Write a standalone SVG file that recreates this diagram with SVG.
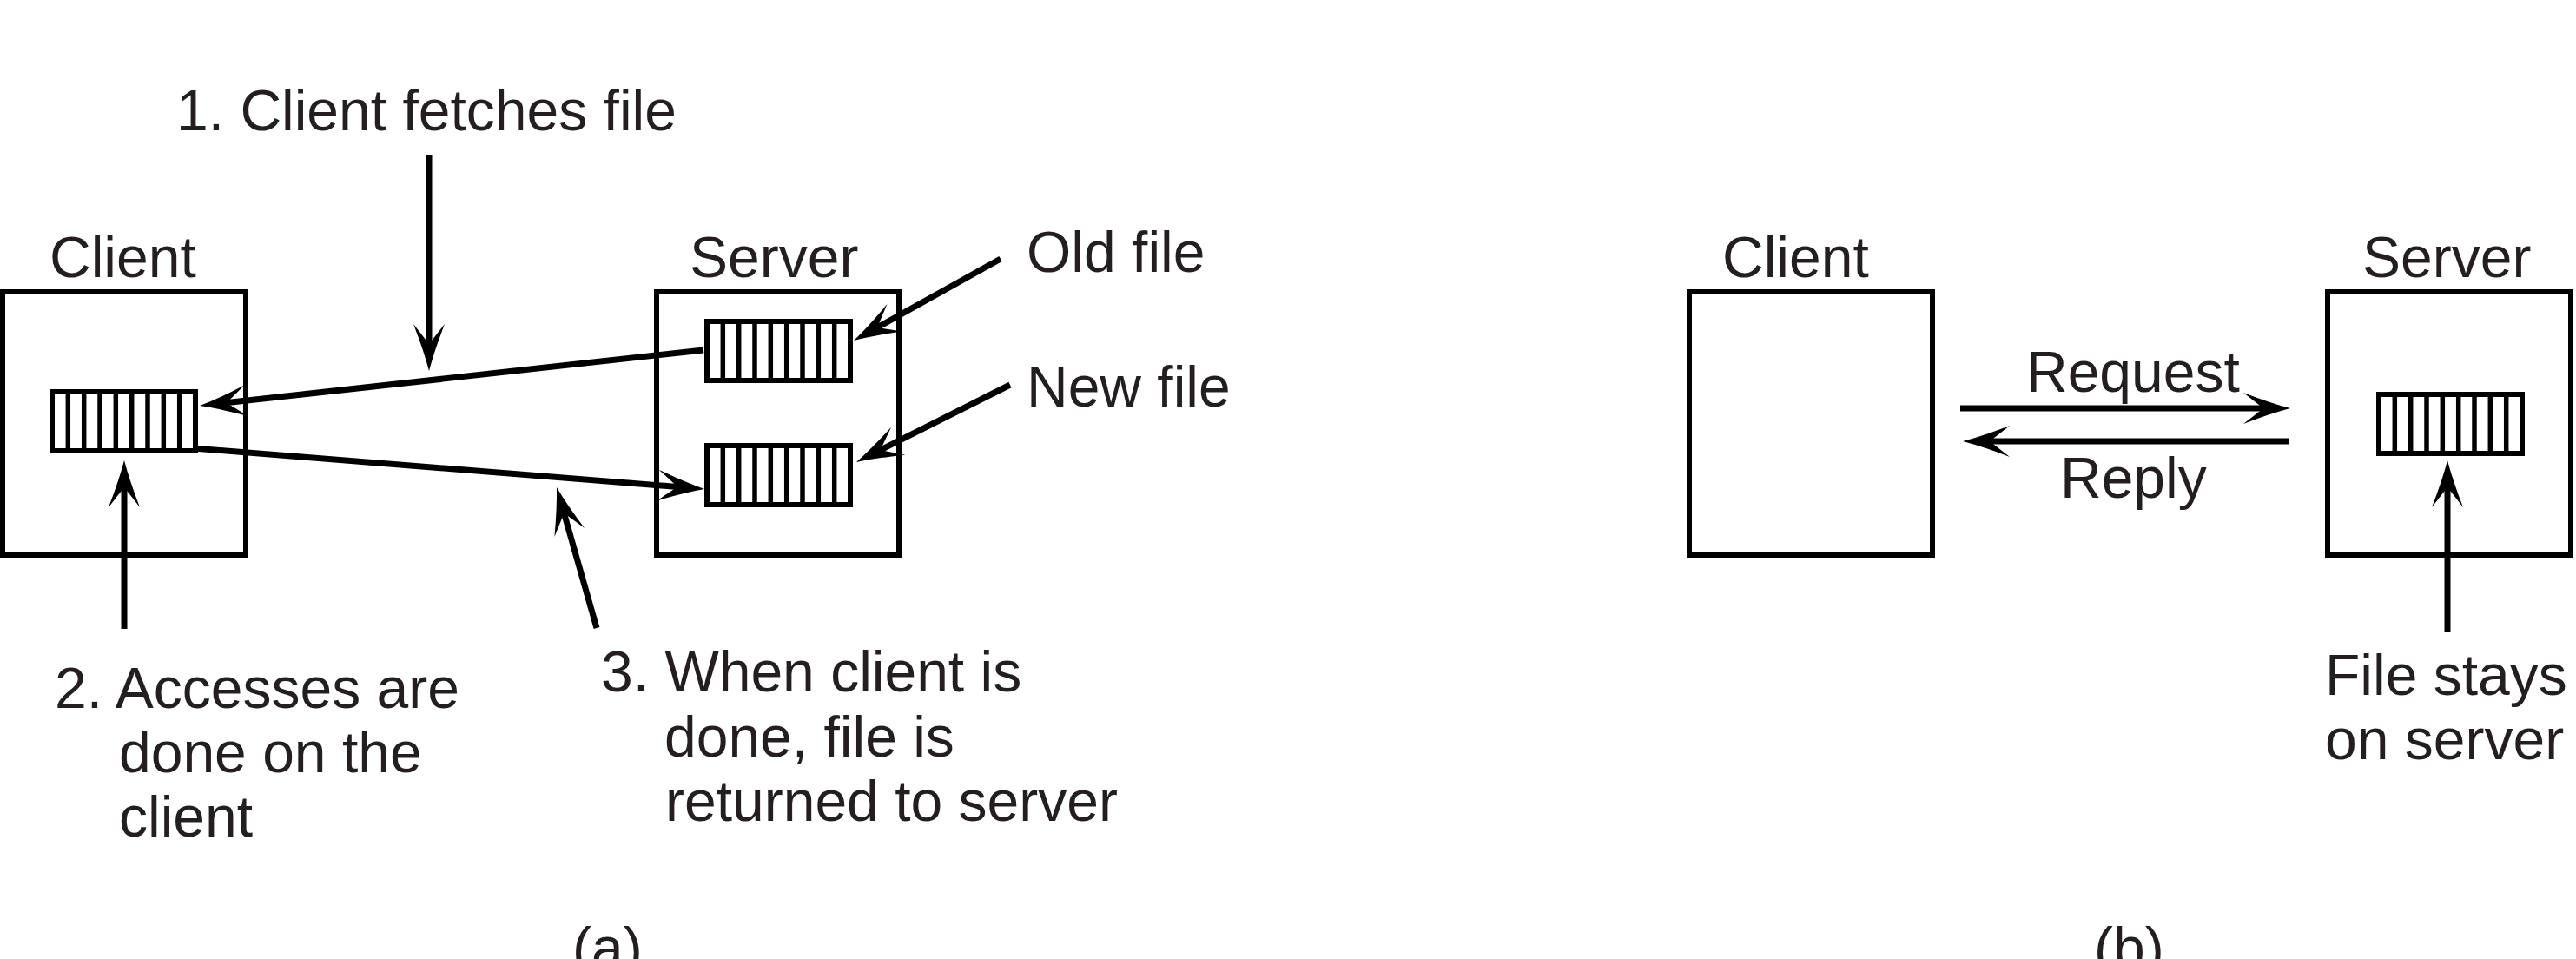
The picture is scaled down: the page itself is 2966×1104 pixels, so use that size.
<svg xmlns="http://www.w3.org/2000/svg" xmlns:xlink="http://www.w3.org/1999/xlink" width="2966" height="1104" viewBox="0 0 2966 1104">
<style>
.box{fill:#fff;stroke:#000;stroke-width:6}
.ficon{fill:#fff;stroke:#000;stroke-width:6}
.div{stroke:#000;stroke-width:5.5}
.lbl{font-family:"Liberation Sans",Arial,Helvetica,sans-serif;font-size:66px;fill:#231f20}
.con{fill:none;stroke:#000;stroke-width:7}
</style>
<defs>
<marker id="ah" markerUnits="userSpaceOnUse" viewBox="-30 -19 56 38" markerWidth="56" markerHeight="38" refX="0" refY="0" orient="auto">
<path d="M25,0 Q2,-6 -29,-18 L-6,0 L-29,18 Q2,6 25,0Z" fill="#000"/>
</marker>
<g id="fileicon">
<rect class="ficon" x="0" y="0" width="165" height="68"/>
<line class="div" x1="18.3" y1="0" x2="18.3" y2="68"/>
<line class="div" x1="36.7" y1="0" x2="36.7" y2="68"/>
<line class="div" x1="55" y1="0" x2="55" y2="68"/>
<line class="div" x1="73.3" y1="0" x2="73.3" y2="68"/>
<line class="div" x1="91.7" y1="0" x2="91.7" y2="68"/>
<line class="div" x1="110" y1="0" x2="110" y2="68"/>
<line class="div" x1="128.3" y1="0" x2="128.3" y2="68"/>
<line class="div" x1="146.7" y1="0" x2="146.7" y2="68"/>
</g>
</defs>
<rect x="0" y="0" width="2966" height="1104" fill="#fff"/>

<g id="client-a">
<rect class="box" x="3" y="336" width="280" height="303"/>
<text class="lbl" x="57" y="319">Client</text>
<use xlink:href="#fileicon" href="#fileicon" x="60" y="451"/>
</g>

<g id="server-a">
<rect class="box" x="756" y="336" width="279" height="303"/>
<text class="lbl" x="794" y="319">Server</text>
</g>

<g id="old-file">
<use xlink:href="#fileicon" href="#fileicon" x="814" y="370"/>
<text class="lbl" x="1182" y="313">Old file</text>
</g>

<g id="new-file">
<use xlink:href="#fileicon" href="#fileicon" x="814" y="513"/>
<text class="lbl" x="1182" y="468">New file</text>
</g>

<g id="note-1">
<text class="lbl" x="203" y="150">1. Client fetches file</text>
</g>

<g id="note-2">
<text class="lbl" x="63" y="815">2. Accesses are</text>
<text class="lbl" x="137" y="889">done on the</text>
<text class="lbl" x="137" y="963">client</text>
</g>

<g id="note-3">
<text class="lbl" x="692" y="796">3. When client is</text>
<text class="lbl" x="765" y="871">done, file is</text>
<text class="lbl" x="766" y="945">returned to server</text>
</g>

<g id="caption-a">
<text class="lbl" x="659" y="1114">(a)</text>
</g>

<g id="client-b">
<rect class="box" x="1945" y="336" width="280" height="303"/>
<text class="lbl" x="1983" y="319">Client</text>
</g>

<g id="server-b">
<rect class="box" x="2680" y="336" width="280" height="303"/>
<text class="lbl" x="2720" y="319">Server</text>
<use xlink:href="#fileicon" href="#fileicon" x="2739" y="454"/>
</g>

<g id="note-b">
<text class="lbl" x="2677" y="800">File stays</text>
<text class="lbl" x="2677" y="874">on server</text>
</g>

<g id="caption-b">
<text class="lbl" x="2411" y="1114">(b)</text>
</g>

<g id="msg-labels">
<text class="lbl" x="2333" y="451">Request</text>
<text class="lbl" x="2372" y="573">Reply</text>
</g>

<g id="connectors">
<line class="con" x1="810" y1="403" x2="254.9" y2="464.3" marker-end="url(#ah)"/>
<line class="con" x1="223" y1="516" x2="786.1" y2="561" marker-end="url(#ah)"/>
<line class="con" x1="494" y1="178" x2="494" y2="402" marker-end="url(#ah)"/>
<line class="con" x1="143" y1="724" x2="143" y2="555" marker-end="url(#ah)"/>
<line class="con" x1="687" y1="723" x2="647.8" y2="585.1" marker-end="url(#ah)"/>
<line class="con" x1="1152" y1="298" x2="1004.9" y2="379.9" marker-end="url(#ah)"/>
<line class="con" x1="1163" y1="443" x2="1008.3" y2="520.8" marker-end="url(#ah)"/>
<line class="con" x1="2257" y1="470" x2="2612" y2="470" marker-end="url(#ah)"/>
<line class="con" x1="2635" y1="508" x2="2285" y2="508" marker-end="url(#ah)"/>
<line class="con" x1="2818" y1="728" x2="2818" y2="555" marker-end="url(#ah)"/>
</g>
</svg>
